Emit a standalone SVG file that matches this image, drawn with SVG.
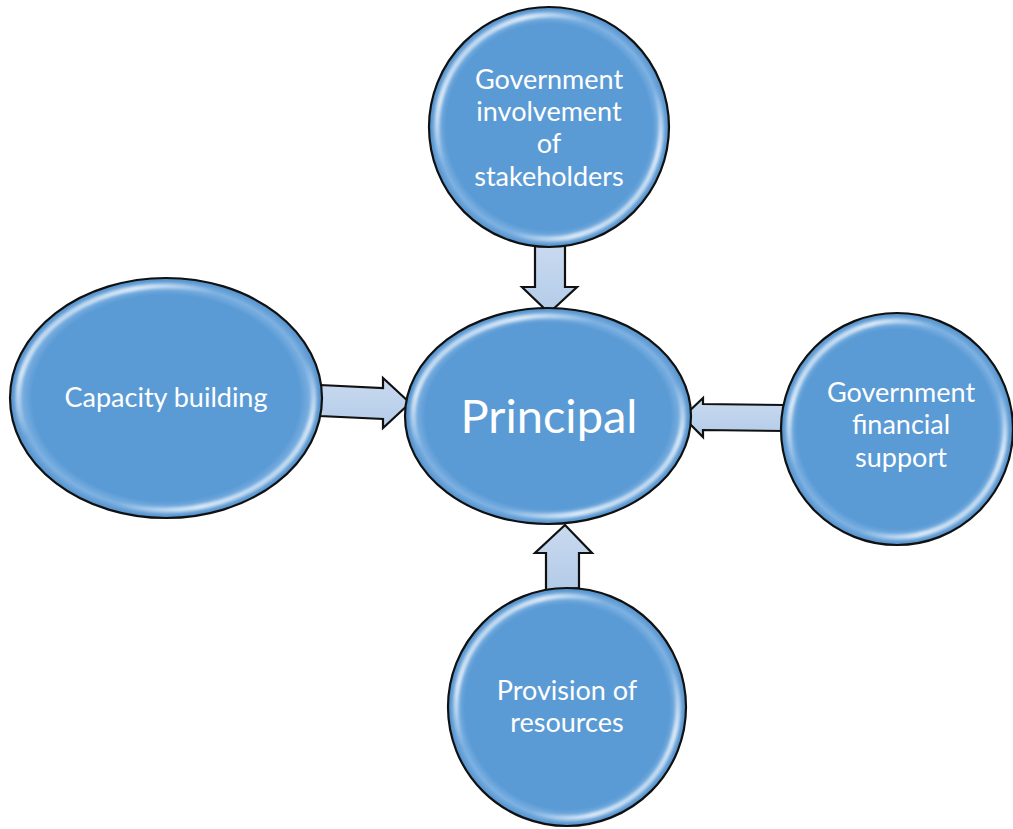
<svg xmlns="http://www.w3.org/2000/svg" width="1013" height="829" viewBox="0 0 1013 829">
  <style>
    .bubble { fill: url(#bubbleFill); stroke: #111; stroke-width: 2.2; }
    .rim { fill: none; stroke: url(#rimGlow); stroke-width: 5; filter: url(#soft); }
    .label { fill: #fff; font-family: Lato, "Open Sans", "Liberation Sans", sans-serif; font-size: 27px; text-anchor: middle; }
    .big { font-size: 47px; }
    .arrow { fill: url(#arrowFill); stroke: #111; stroke-width: 2.2; stroke-linejoin: miter; }
  </style>
  <defs>
    <radialGradient id="bubbleFill" cx="50%" cy="50%" r="50%">
      <stop offset="0" stop-color="#5B9BD5"/>
      <stop offset="0.86" stop-color="#5B9BD5"/>
      <stop offset="0.93" stop-color="#7DB1E2"/>
      <stop offset="1" stop-color="#4F8FCB"/>
    </radialGradient>
    <linearGradient id="rimGlow" x1="0" y1="0" x2="1" y2="1">
      <stop offset="0" stop-color="#ffffff" stop-opacity="0"/>
      <stop offset="0.2" stop-color="#ffffff" stop-opacity="0.75"/>
      <stop offset="0.35" stop-color="#ffffff" stop-opacity="0"/>
      <stop offset="0.65" stop-color="#ffffff" stop-opacity="0"/>
      <stop offset="0.8" stop-color="#ffffff" stop-opacity="0.75"/>
      <stop offset="1" stop-color="#ffffff" stop-opacity="0"/>
    </linearGradient>
    <linearGradient id="arrowFill" x1="0" y1="0" x2="0" y2="1">
      <stop offset="0" stop-color="#C9DAEF"/>
      <stop offset="1" stop-color="#B3CBE8"/>
    </linearGradient>
    <filter id="soft" x="-10%" y="-10%" width="120%" height="120%">
      <feGaussianBlur stdDeviation="1.5"/>
    </filter>
  </defs>

  <rect width="1013" height="829" fill="#fff"/>

  <!-- connectors: block arrows pointing to the centre -->
  <g id="connectors">
    <path class="arrow" d="M535,246 L565,246 L565,287 L577,287 L549,313 L522,287 L535,287 Z"/>
    <path class="arrow" d="M320,385 L383,388 L383,378 L410,403 L383,428 L383,419 L320,416 Z"/>
    <path class="arrow" d="M784,405 L703,404 L703,398 L683,417 L703,437 L703,430 L784,431 Z"/>
    <path class="arrow" d="M546,590 L579,588 L579,553 L592,553 L565,525 L535,553 L546,553 Z"/>
  </g>

  <g id="node-principal">
    <ellipse class="bubble" cx="548" cy="416" rx="143" ry="108"/>
    <ellipse class="rim" cx="548" cy="416" rx="135" ry="100"/>
    <text class="label big" x="549" y="433">Principal</text>
  </g>

  <g id="node-stakeholders">
    <circle class="bubble" cx="549" cy="127" r="120"/>
    <circle class="rim" cx="549" cy="127" r="112"/>
    <text class="label" x="549" y="89">Government</text>
    <text class="label" x="549" y="121">involvement</text>
    <text class="label" x="549" y="153">of</text>
    <text class="label" x="549" y="186">stakeholders</text>
  </g>

  <g id="node-capacity">
    <ellipse class="bubble" cx="166" cy="398" rx="156" ry="120"/>
    <ellipse class="rim" cx="166" cy="398" rx="148" ry="112"/>
    <text class="label" x="166" y="407">Capacity building</text>
  </g>

  <g id="node-financial">
    <circle class="bubble" cx="897" cy="429" r="116"/>
    <circle class="rim" cx="897" cy="429" r="108"/>
    <text class="label" x="901" y="402">Government</text>
    <text class="label" x="901" y="434">financial</text>
    <text class="label" x="901" y="467">support</text>
  </g>

  <g id="node-resources">
    <circle class="bubble" cx="567" cy="707" r="119"/>
    <circle class="rim" cx="567" cy="707" r="111"/>
    <text class="label" x="567" y="700">Provision of</text>
    <text class="label" x="567" y="732">resources</text>
  </g>
</svg>
